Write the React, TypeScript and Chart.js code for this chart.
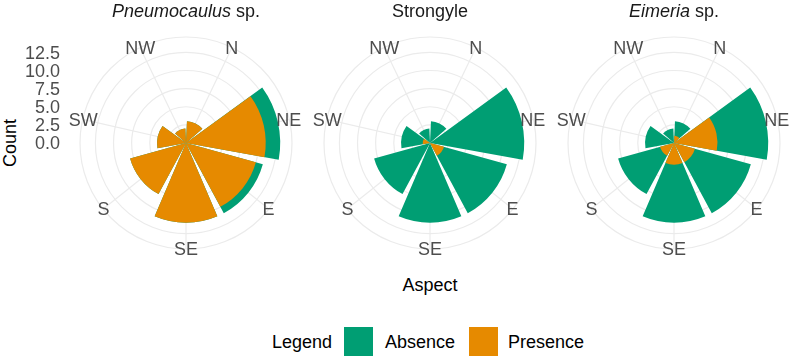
import React, { useEffect, useRef } from "react";
import { Chart, registerables } from "chart.js";

Chart.register(...registerables);

// ---- data ----
const ASPECTS = ["N", "NE", "E", "SE", "S", "SW", "NW"];
const PNEUMOCAULUS_ABSENCE = [0, 2, 1, 0, 0, 0, 0];
const PNEUMOCAULUS_PRESENCE = [3, 11, 10, 11, 8, 4, 2];
const STRONGYLE_ABSENCE = [3, 13, 9, 11, 8, 3, 2];
const STRONGYLE_PRESENCE = [0, 0, 2, 0, 0, 1, 0];
const EIMERIA_ABSENCE = [2, 7, 8, 8, 6, 4, 2];
const EIMERIA_PRESENCE = [1, 6, 3, 3, 2, 0, 0];
const COUNT_TICKS = [0, 2.5, 5, 7.5, 10, 12.5];
const COUNT_TICK_LABELS = ["0.0", "2.5", "5.0", "7.5", "10.0", "12.5"];
const LEGEND_LABELS = ["Absence", "Presence"];

// ---- style ----
const GREEN = "#009E73";
const ORANGE = "#E68A00";
const GRID = "#EBEBEB";
const AXIS_TEXT = "#4D4D4D";
const FONT = '"Liberation Sans", Arial, Helvetica, sans-serif';
const CAP_HALF = 6.4;

const BAR_WIDTH = 0.9;
const SECTOR = 360 / ASPECTS.length;
const R = 106;
const CY = 143;
const CANVAS_TOP = 20;
const CANVAS_H = 250;
const PANEL_CX = [186, 430, 674];

const PANELS = [
  { absence: PNEUMOCAULUS_ABSENCE, presence: PNEUMOCAULUS_PRESENCE },
  { absence: STRONGYLE_ABSENCE, presence: STRONGYLE_PRESENCE },
  { absence: EIMERIA_ABSENCE, presence: EIMERIA_PRESENCE },
];

const MAX_TOTAL = Math.max(
  ...PANELS.flatMap((p) => p.absence.map((a, i) => a + p.presence[i]))
);
const R_MAX = (MAX_TOTAL * 0.45) / 0.4;

// 14 scale labels: odd positions are the aspect centres, even are sector edges
const SCALE_LABELS = Array.from({ length: ASPECTS.length * 2 }, (_, i) =>
  i % 2 === 1 ? ASPECTS[(i - 1) / 2] : ""
);

function spread(values: number[]) {
  const out: number[] = [0];
  values.forEach((v) => out.push(v, 0));
  return out;
}

function sliceAngle(i: number) {
  const n = ASPECTS.length;
  if (i % 2 === 1) return SECTOR * BAR_WIDTH;
  const gap = SECTOR * (1 - BAR_WIDTH);
  return i === 0 || i === 2 * n ? gap / 2 : gap;
}

const polarText = {
  id: "polarText",
  afterDraw(chart: any, _args: any, opts: any) {
    const s = chart.scales.r;
    const ctx = chart.ctx;
    const outer = s.getDistanceFromCenterForValue(s.max);
    ctx.save();
    ctx.font = `18px ${FONT}`;
    ctx.fillStyle = AXIS_TEXT;
    ctx.textAlign = "center";
    ctx.textBaseline = "alphabetic";
    ASPECTS.forEach((name, k) => {
      const p = s.getPointPosition(2 * k + 1, outer * 0.995);
      ctx.fillText(name, p.x, p.y + CAP_HALF);
    });
    if (opts && opts.showTicks) {
      ctx.textAlign = "right";
      COUNT_TICKS.forEach((v, i) => {
        const y = s.yCenter - s.getDistanceFromCenterForValue(v);
        ctx.fillText(COUNT_TICK_LABELS[i], s.xCenter - 126, y + CAP_HALF);
      });
    }
    ctx.restore();
  },
};

function PolarPanel({ idx }: { idx: number }) {
  const ref = useRef<HTMLCanvasElement>(null);
  const cx = PANEL_CX[idx];
  const left = idx === 0 ? 20 : cx - 122;
  const width = cx + 122 - left;

  useEffect(() => {
    const panel = PANELS[idx];
    const totals = panel.absence.map((a, i) => a + panel.presence[i]);
    const padLeft = cx - left - R;
    const padRight = width - (cx - left) - R;
    const padTop = CY - CANVAS_TOP - R;
    const padBottom = CANVAS_H - (CY - CANVAS_TOP) - R;
    const colorFn = (c: string) => (ctx: any) =>
      ctx.dataIndex % 2 === 1 ? c : "rgba(0,0,0,0)";
    const angleFn = (ctx: any) => sliceAngle(ctx.dataIndex);

    const chart = new Chart(ref.current as HTMLCanvasElement, {
      type: "polarArea",
      data: {
        labels: SCALE_LABELS,
        datasets: [
          {
            label: LEGEND_LABELS[0],
            data: spread(totals),
            backgroundColor: colorFn(GREEN),
            angle: angleFn,
            borderWidth: 0,
            order: 2,
          } as any,
          {
            label: LEGEND_LABELS[1],
            data: spread(panel.presence),
            backgroundColor: colorFn(ORANGE),
            angle: angleFn,
            borderWidth: 0,
            order: 1,
          } as any,
        ],
      },
      options: {
        animation: false,
        responsive: true,
        maintainAspectRatio: false,
        events: [],
        layout: {
          padding: { left: padLeft, right: padRight, top: padTop, bottom: padBottom },
        },
        plugins: {
          legend: { display: false },
          tooltip: { enabled: false },
          polarText: { showTicks: idx === 0 },
        } as any,
        scales: {
          r: {
            min: 0,
            max: R_MAX,
            startAngle: 0,
            afterBuildTicks: (scale: any) => {
              scale.ticks = [...COUNT_TICKS, R_MAX].map((v) => ({ value: v }));
            },
            ticks: { display: false },
            grid: { circular: true, color: GRID, lineWidth: 1.2 },
            angleLines: {
              display: true,
              color: (ctx: any) => (ctx.index % 2 === 1 ? GRID : "rgba(0,0,0,0)"),
              lineWidth: 1.2,
            },
            pointLabels: { display: false },
          } as any,
        },
      },
      plugins: [polarText],
    });
    return () => chart.destroy();
  }, []);

  return (
    <div
      style={{
        position: "absolute",
        left,
        top: CANVAS_TOP,
        width,
        height: CANVAS_H,
      }}
    >
      <canvas ref={ref} />
    </div>
  );
}

const textBase: React.CSSProperties = {
  position: "absolute",
  fontFamily: FONT,
  fontSize: 18,
  lineHeight: "20px",
  whiteSpace: "nowrap",
};

export default function App() {
  const titles = [
    <>
      <i>Pneumocaulus</i> sp.
    </>,
    <>Strongyle</>,
    <>
      <i>Eimeria</i> sp.
    </>,
  ];
  return (
    <div
      style={{
        position: "absolute",
        left: 0,
        top: 0,
        width: 790,
        height: 358,
        background: "#fff",
        overflow: "hidden",
      }}
    >
      {PANELS.map((_, i) => (
        <PolarPanel key={i} idx={i} />
      ))}
      {titles.map((t, i) => (
        <div
          key={i}
          style={{
            ...textBase,
            left: PANEL_CX[i] - 150,
            width: 300,
            top: 1,
            textAlign: "center",
            color: "#1A1A1A",
          }}
        >
          {t}
        </div>
      ))}
      <div
        style={{
          ...textBase,
          left: 10 - 40,
          top: CY - 10,
          width: 80,
          textAlign: "center",
          transform: "rotate(-90deg)",
          color: "#000",
        }}
      >
        Count
      </div>
      <div
        style={{ ...textBase, left: 330, width: 200, top: 275, textAlign: "center", color: "#000" }}
      >
        Aspect
      </div>
      <div style={{ ...textBase, left: 272, top: 332, color: "#000" }}>Legend</div>
      <div
        style={{ position: "absolute", left: 344, top: 327, width: 29, height: 29, background: GREEN }}
      />
      <div style={{ ...textBase, left: 385, top: 332, color: "#000" }}>{LEGEND_LABELS[0]}</div>
      <div
        style={{ position: "absolute", left: 469, top: 327, width: 29, height: 29, background: ORANGE }}
      />
      <div style={{ ...textBase, left: 508, top: 332, color: "#000" }}>{LEGEND_LABELS[1]}</div>
    </div>
  );
}
